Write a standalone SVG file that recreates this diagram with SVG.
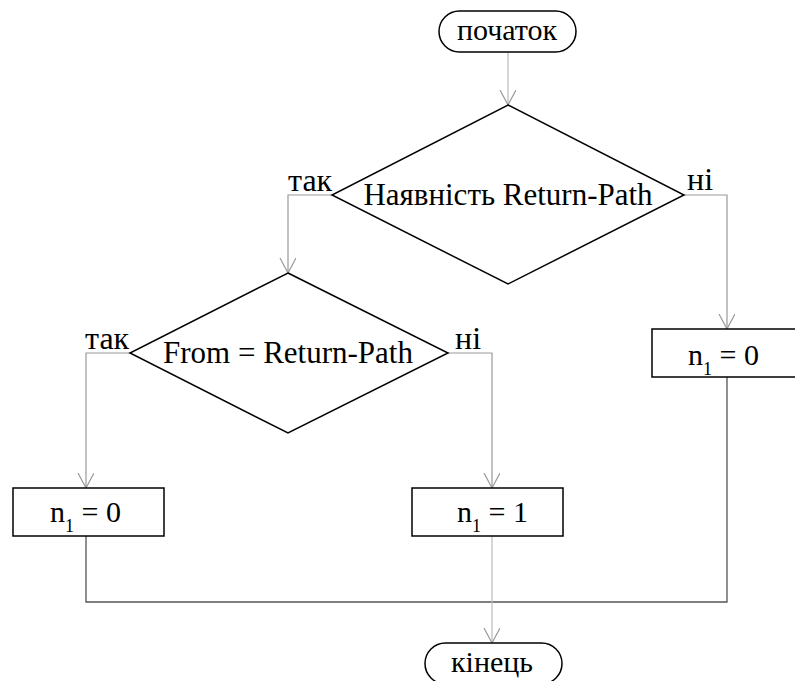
<svg xmlns="http://www.w3.org/2000/svg" width="795" height="681" viewBox="0 0 795 681">
<style>
.shape{fill:#fff;stroke:#000;stroke-width:1.5}
.c{fill:none;stroke:#999;stroke-width:1.2}
.cl{fill:none;stroke:#bbb;stroke-width:1.2}
.cd{fill:none;stroke:#555;stroke-width:1.3}
text{font-family:'Liberation Serif','Times New Roman','DejaVu Serif',serif;fill:#000}
.t{font-size:30px;text-anchor:middle}
.d{font-size:31px;text-anchor:middle}
.lb{font-size:32px}
.b{font-size:30px}
.s{font-size:18px}
</style>
<defs>
<marker id="arr" viewBox="0 0 16 18" refX="15" refY="8" markerWidth="16" markerHeight="18" markerUnits="userSpaceOnUse" orient="auto">
<path d="M0,0 L15,8 L0,16" fill="none" stroke="#999" stroke-width="1.2"/>
</marker>
</defs>
<g id="connectors">
<path class="cl" d="M508,52 V105" marker-end="url(#arr)"/>
<path class="c" d="M332,195 H288 V273" marker-end="url(#arr)"/>
<path class="c" d="M684,195 H727 V329" marker-end="url(#arr)"/>
<path class="c" d="M130,353 H86 V488" marker-end="url(#arr)"/>
<path class="c" d="M448,353 H492 V488" marker-end="url(#arr)"/>
<path class="cd" d="M86,536 V602 H727 V377"/>
<path class="cl" d="M492,536 V643" marker-end="url(#arr)"/>
</g>
<g id="start">
<rect class="shape" x="439" y="11" width="137" height="41" rx="20.5"/>
<text class="t" x="507" y="40" font-family="Liberation Serif, serif">початок</text>
</g>
<g id="decision1">
<polygon class="shape" points="508,105 684,195 508,284 332,195"/>
<text class="d" x="508" y="205" font-family="Liberation Serif, serif">Наявність Return-Path</text>
</g>
<g id="label-yes1"><text class="lb" x="288" y="191" font-family="Liberation Serif, serif">так</text></g>
<g id="label-no1"><text class="lb" x="687" y="190" font-family="Liberation Serif, serif">ні</text></g>
<g id="decision2">
<polygon class="shape" points="288,273 448,353 288,433 130,353"/>
<text class="d" x="288" y="363" font-family="Liberation Serif, serif">From = Return-Path</text>
</g>
<g id="label-yes2"><text class="lb" x="85" y="349" font-family="Liberation Serif, serif">так</text></g>
<g id="label-no2"><text class="lb" x="455" y="349" font-family="Liberation Serif, serif">ні</text></g>
<g id="boxA">
<rect class="shape" x="13" y="488" width="151" height="48"/>
<text class="b" x="50" y="522" font-family="Liberation Serif, serif">n<tspan class="s" dy="10">1</tspan><tspan dy="-10"> = 0</tspan></text>
</g>
<g id="boxB">
<rect class="shape" x="412" y="488" width="151" height="48"/>
<text class="b" x="457" y="522" font-family="Liberation Serif, serif">n<tspan class="s" dy="10">1</tspan><tspan dy="-10"> = 1</tspan></text>
</g>
<g id="boxC">
<rect class="shape" x="652" y="329" width="150" height="48"/>
<text class="b" x="688" y="365" font-family="Liberation Serif, serif">n<tspan class="s" dy="10">1</tspan><tspan dy="-10"> = 0</tspan></text>
</g>
<g id="end">
<rect class="shape" x="425" y="643" width="137" height="41" rx="20.5"/>
<text class="t" x="492" y="672" font-family="Liberation Serif, serif">кінець</text>
</g>
</svg>
